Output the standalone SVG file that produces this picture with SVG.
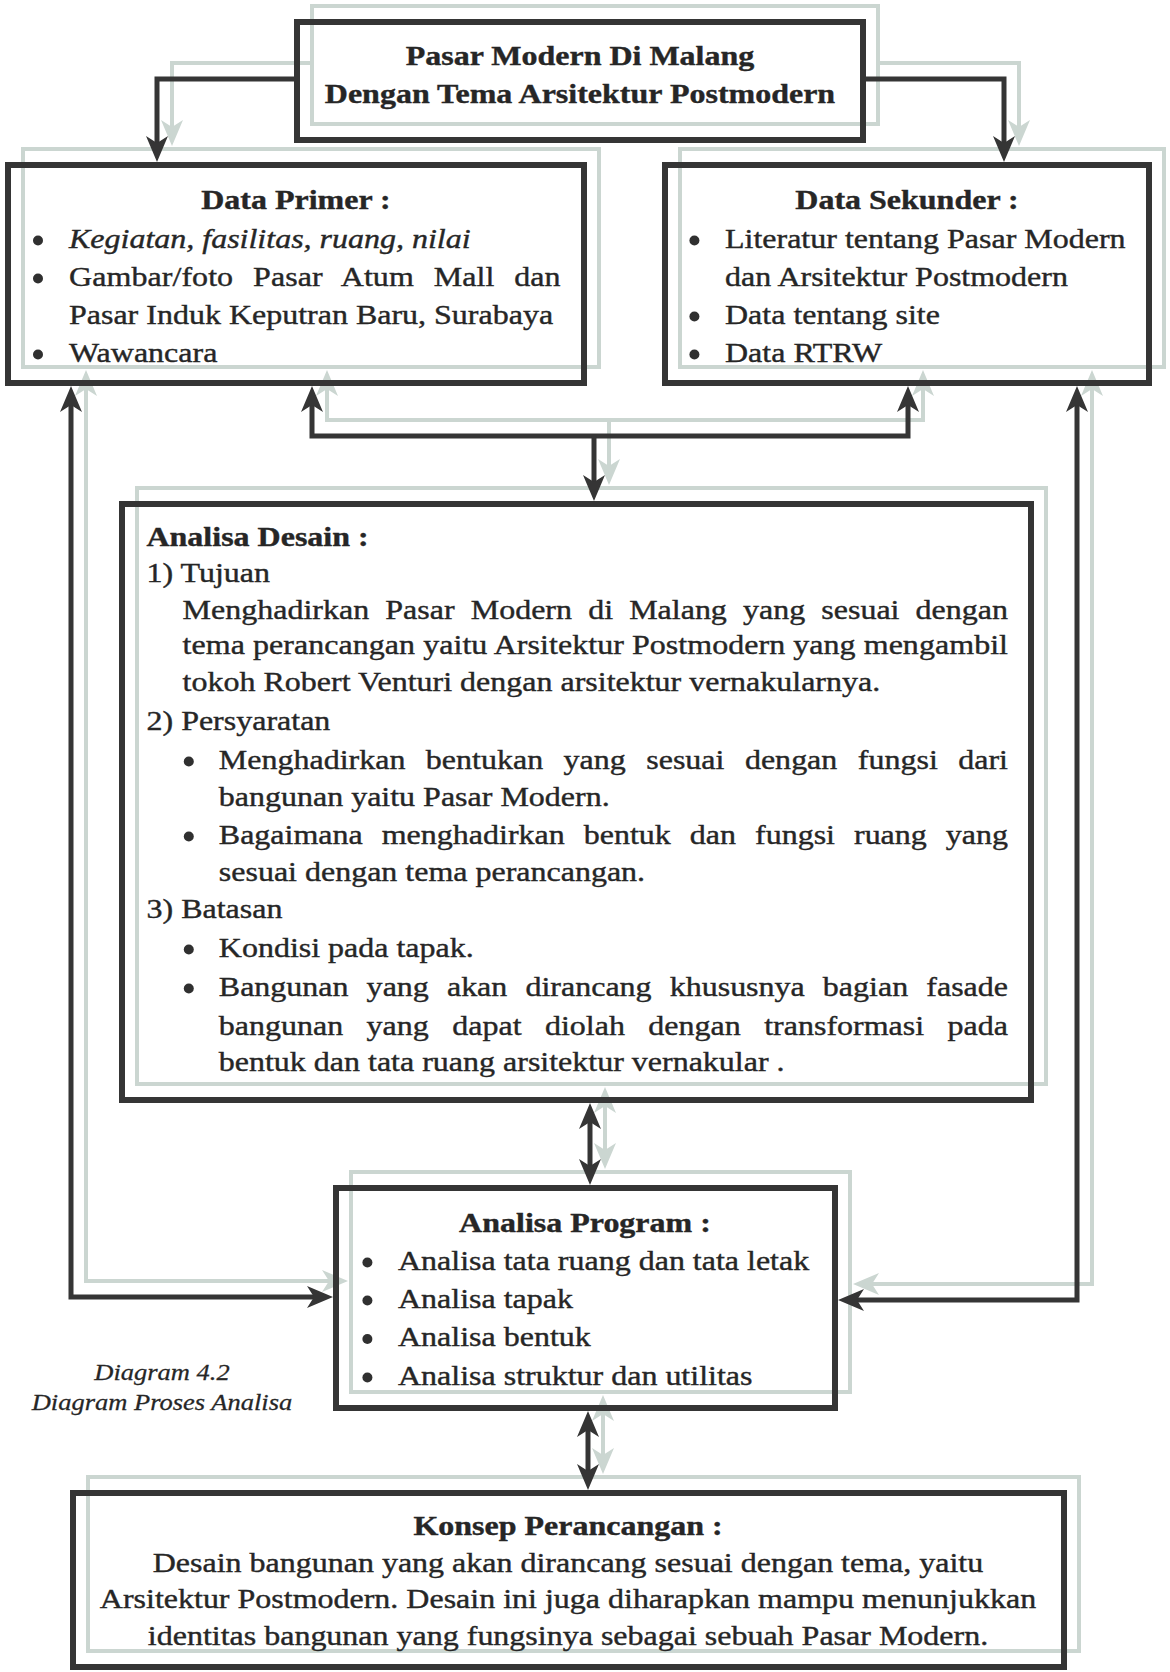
<svg xmlns="http://www.w3.org/2000/svg" width="1170" height="1672" viewBox="0 0 1170 1672">
<style>
.box{fill:none;stroke:#353535;stroke-width:6}
.con{fill:none;stroke:#353535;stroke-width:5}
.gh rect,.gh path{fill:none;stroke:#cbd6d1;stroke-width:4}
.t{font-family:"Liberation Serif","Times New Roman",serif;font-size:32px;fill:#262626;stroke:#262626;stroke-width:0.45}
.bd{font-weight:bold}
.it{font-style:italic}
.mid{text-anchor:middle}
.cap{font-size:26.5px;stroke-width:0.3}
.dot{fill:#303030}
</style>
<defs>
<marker id="ad" viewBox="-17 -12 28 24" markerWidth="28" markerHeight="24" markerUnits="userSpaceOnUse" refX="0" refY="0" orient="auto-start-reverse"><path d="M10,0 L-16,-11 L-9,0 L-16,11 Z" fill="#353535"/></marker>
<marker id="al" viewBox="-17 -12 28 24" markerWidth="28" markerHeight="24" markerUnits="userSpaceOnUse" refX="0" refY="0" orient="auto-start-reverse"><path d="M10,0 L-16,-11 L-9,0 L-16,11 Z" fill="#cbd6d1"/></marker>
</defs>
<rect width="1170" height="1672" fill="#ffffff"/>

<!-- misregistered light copy -->
<g class="gh" transform="translate(15,-16)">
<rect x="297" y="22" width="566" height="118"/>
<rect x="8" y="165" width="576" height="218"/>
<rect x="665" y="165" width="484" height="218"/>
<rect x="122" y="504" width="909" height="596"/>
<rect x="336" y="1188" width="499" height="220"/>
<rect x="73" y="1493" width="991" height="174"/>
<path d="M297,79 H157 V152" marker-end="url(#al)"/>
<path d="M863,79 H1004 V152" marker-end="url(#al)"/>
<path d="M71,396 V1297 H323" marker-start="url(#al)" marker-end="url(#al)"/>
<path d="M1077,396 V1300 H848" marker-start="url(#al)" marker-end="url(#al)"/>
<path d="M312,396 V436 H908 V396" marker-start="url(#al)" marker-end="url(#al)"/>
<path d="M594,436 V491" marker-end="url(#al)"/>
<path d="M590,1113 V1175" marker-start="url(#al)" marker-end="url(#al)"/>
<path d="M588,1421 V1480" marker-start="url(#al)" marker-end="url(#al)"/>
</g>

<g id="connectors">
<path class="con" d="M297,79 H157 V152" marker-end="url(#ad)"/>
<path class="con" d="M863,79 H1004 V152" marker-end="url(#ad)"/>
<path class="con" d="M71,396 V1297 H323" marker-start="url(#ad)" marker-end="url(#ad)"/>
<path class="con" d="M1077,396 V1300 H848" marker-start="url(#ad)" marker-end="url(#ad)"/>
<path class="con" d="M312,396 V436 H908 V396" marker-start="url(#ad)" marker-end="url(#ad)"/>
<path class="con" d="M594,436 V491" marker-end="url(#ad)"/>
<path class="con" d="M590,1113 V1175" marker-start="url(#ad)" marker-end="url(#ad)"/>
<path class="con" d="M588,1421 V1480" marker-start="url(#ad)" marker-end="url(#ad)"/>
</g>

<g id="node-title">
<rect class="box" x="297" y="22" width="566" height="118"/>
<g transform="scale(1,0.865)">
<text class="t bd mid" x="580" y="75.14">Pasar Modern Di Malang</text>
<text class="t bd mid" x="580" y="119.08">Dengan Tema Arsitektur Postmodern</text>
</g>
</g>

<g id="node-data-primer">
<rect class="box" x="8" y="165" width="576" height="218"/>
<circle class="dot" cx="38" cy="240.5" r="5"/>
<circle class="dot" cx="38" cy="278.5" r="5"/>
<circle class="dot" cx="38" cy="354.5" r="5"/>
<g transform="scale(1,0.865)">
<text class="t bd mid" x="296" y="242.20">Data Primer :</text>
<text class="t it" x="69" y="286.71">Kegiatan, fasilitas, ruang, nilai</text>
<text class="t" x="69" y="330.64" word-spacing="11.8" textLength="491.6" lengthAdjust="spacing">Gambar/foto Pasar Atum Mall dan</text>
<text class="t" x="69" y="374.57">Pasar Induk Keputran Baru, Surabaya</text>
<text class="t" x="69" y="418.50">Wawancara</text>
</g>
</g>

<g id="node-data-sekunder">
<rect class="box" x="665" y="165" width="484" height="218"/>
<circle class="dot" cx="694.4" cy="240.5" r="5"/>
<circle class="dot" cx="694.4" cy="316.5" r="5"/>
<circle class="dot" cx="694.4" cy="354.5" r="5"/>
<g transform="scale(1,0.865)">
<text class="t bd mid" x="907" y="242.20">Data Sekunder :</text>
<text class="t" x="725" y="286.71">Literatur tentang Pasar Modern</text>
<text class="t" x="725" y="330.64">dan Arsitektur Postmodern</text>
<text class="t" x="725" y="374.57">Data tentang site</text>
<text class="t" x="725" y="418.50">Data RTRW</text>
</g>
</g>

<g id="node-analisa-desain">
<rect class="box" x="122" y="504" width="909" height="596"/>
<circle class="dot" cx="188.8" cy="761.5" r="5"/>
<circle class="dot" cx="188.8" cy="836.5" r="5"/>
<circle class="dot" cx="188.8" cy="949.5" r="5"/>
<circle class="dot" cx="188.8" cy="988.5" r="5"/>
<g transform="scale(1,0.865)">
<text class="t bd" x="146.5" y="631.21">Analisa Desain :</text>
<text class="t" x="146.5" y="672.83">1) Tujuan</text>
<text class="t" x="182.6" y="715.61" word-spacing="8.1" textLength="825.4" lengthAdjust="spacing">Menghadirkan Pasar Modern di Malang yang sesuai dengan</text>
<text class="t" x="182.6" y="756.07" textLength="825.4" lengthAdjust="spacing">tema perancangan yaitu Arsitektur Postmodern yang mengambil</text>
<text class="t" x="182.6" y="798.84">tokoh Robert Venturi dengan arsitektur vernakularnya.</text>
<text class="t" x="146.5" y="843.93">2) Persyaratan</text>
<text class="t" x="218.8" y="889.02" word-spacing="12.45" textLength="789.2" lengthAdjust="spacing">Menghadirkan bentukan yang sesuai dengan fungsi dari</text>
<text class="t" x="218.8" y="931.79">bangunan yaitu Pasar Modern.</text>
<text class="t" x="218.8" y="975.72" word-spacing="10.97" textLength="789.2" lengthAdjust="spacing">Bagaimana menghadirkan bentuk dan fungsi ruang yang</text>
<text class="t" x="218.8" y="1018.50">sesuai dengan tema perancangan.</text>
<text class="t" x="146.5" y="1061.27">3) Batasan</text>
<text class="t" x="218.8" y="1106.36">Kondisi pada tapak.</text>
<text class="t" x="218.8" y="1151.45" word-spacing="10.1" textLength="789.2" lengthAdjust="spacing">Bangunan yang akan dirancang khususnya bagian fasade</text>
<text class="t" x="218.8" y="1196.53" word-spacing="15.4" textLength="789.2" lengthAdjust="spacing">bangunan yang dapat diolah dengan transformasi pada</text>
<text class="t" x="218.8" y="1238.15">bentuk dan tata ruang arsitektur vernakular .</text>
</g>
</g>

<g id="node-analisa-program">
<rect class="box" x="336" y="1188" width="499" height="220"/>
<circle class="dot" cx="367.4" cy="1262.5" r="5"/>
<circle class="dot" cx="367.4" cy="1300.5" r="5"/>
<circle class="dot" cx="367.4" cy="1339" r="5"/>
<circle class="dot" cx="367.4" cy="1377.5" r="5"/>
<g transform="scale(1,0.865)">
<text class="t bd mid" x="585" y="1424.28">Analisa Program :</text>
<text class="t" x="398" y="1468.21">Analisa tata ruang dan tata letak</text>
<text class="t" x="398" y="1512.14">Analisa tapak</text>
<text class="t" x="398" y="1556.65">Analisa bentuk</text>
<text class="t" x="398" y="1601.16">Analisa struktur dan utilitas</text>
</g>
</g>

<g id="caption">
<g transform="scale(1,0.865)">
<text class="t it cap mid" x="162" y="1595.38">Diagram 4.2</text>
<text class="t it cap mid" x="162" y="1630.06">Diagram Proses Analisa</text>
</g>
</g>

<g id="node-konsep">
<rect class="box" x="73" y="1493" width="991" height="174"/>
<g transform="scale(1,0.865)">
<text class="t bd mid" x="568" y="1774.57">Konsep Perancangan :</text>
<text class="t mid" x="568" y="1817.34">Desain bangunan yang akan dirancang sesuai dengan tema, yaitu</text>
<text class="t mid" x="568" y="1858.96">Arsitektur Postmodern. Desain ini juga diharapkan mampu menunjukkan</text>
<text class="t mid" x="568" y="1901.73">identitas bangunan yang fungsinya sebagai sebuah Pasar Modern.</text>
</g>
</g>
</svg>
